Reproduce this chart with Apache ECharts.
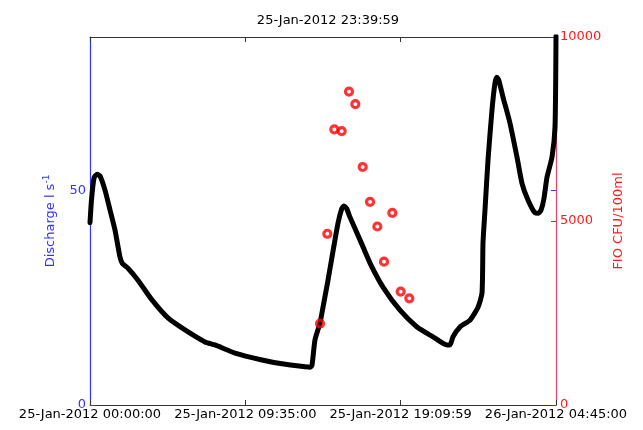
<!DOCTYPE html>
<html>
<head>
<meta charset="utf-8">
<script src="https://cdn.jsdelivr.net/npm/echarts@6/dist/echarts.min.js"></script>
<style>
html,body{margin:0;padding:0;background:#fff;}
#chart{width:643px;height:430px;}
</style>
</head>
<body>
<div id="chart"></div>
<script>
// Minutes since 25-Jan-2012 00:00:00
var timeMin = [0, 5.5, 14.8, 25.9, 37, 55.5, 74, 92.5, 111, 120, 140.7, 177.7, 229.5, 288.7, 351.7, 425.7, 462.7, 536.7, 636.7, 710.7, 795.9, 815, 821.8, 832.9, 851.4, 862.5, 881, 895.8, 918, 932, 940, 950, 962.4, 999.5, 1036.5, 1084.6, 1147.5, 1210.5, 1269.7, 1321.5, 1332.6, 1343.7, 1369.6, 1406.7, 1436.3, 1451.1, 1454.8, 1462.2, 1473.3, 1488.1, 1499.2, 1506, 1513, 1528.8, 1554.7, 1580.6, 1599.1, 1621.3, 1647.3, 1660, 1670, 1680, 1691.7, 1710.2, 1721.3, 1725];
var discharge = [42.5, 47.8, 52.9, 53.8, 53.4, 50.1, 45.5, 40.8, 34.5, 33.0, 31.9, 29.1, 24.5, 20.3, 17.5, 14.7, 14.0, 12.1, 10.5, 9.6, 8.9, 8.8, 9.3, 15.2, 19.1, 22.8, 29.1, 34.5, 42.4, 45.8, 46.4, 45.8, 43.8, 38.5, 33.1, 27.5, 22.1, 18.2, 15.9, 14.0, 14.0, 15.9, 18.2, 19.8, 22.8, 26.1, 37.8, 45.5, 57.1, 68.8, 75.1, 76.4, 75.8, 71.8, 65.7, 57.8, 51.7, 47.8, 44.8, 44.7, 45.5, 48.0, 53.1, 57.8, 64.8, 86.0];

var fioTime = [851.4, 878.5, 904.4, 931.6, 958.7, 982.2, 1009.4, 1036.5, 1063.6, 1088.3, 1119, 1150, 1182];
var fioValue = [2214, 4653, 7488, 7444, 8518, 8176, 6468, 5520, 4851, 3894, 5222, 3081, 2900];

var xTickLabels = ['25-Jan-2012 00:00:00', '25-Jan-2012 09:35:00', '25-Jan-2012 19:09:59', '26-Jan-2012 04:45:00'];
var titleText = '25-Jan-2012 23:39:59';

var lineData = timeMin.map(function(t, i){ return [t, discharge[i]]; });
var fioData = fioTime.map(function(t, i){ return [t, fioValue[i]]; });

var FONT = 'DejaVu Sans';
var BLUE = '#3333ff';
var RED = '#ff1a1a';

var gridBox = {left: 90, right: 87, top: 37, bottom: 25, containLabel: false};

var chart = echarts.init(document.getElementById('chart'), null, {renderer: 'canvas'});
chart.setOption({
  animation: false,
  backgroundColor: '#ffffff',
  title: {
    text: titleText,
    left: 323, top: 9, textAlign: 'center',
    textStyle: {fontFamily: FONT, fontSize: 13, fontWeight: 'normal', color: '#000'}
  },
  grid: [gridBox, Object.assign({}, gridBox)],
  xAxis: [{
    type: 'value', gridIndex: 0, min: 0, max: 1725, interval: 575, position: 'bottom',
    axisLine: {show: true, onZero: false, lineStyle: {color: '#333', width: 1}},
    axisTick: {show: true, inside: true, length: 5, lineStyle: {color: '#333'}},
    axisLabel: {
      fontFamily: FONT, fontSize: 13, color: '#000', margin: 3,
      showMinLabel: true, showMaxLabel: true,
      formatter: function(v){ var i = Math.round(v / 575); return xTickLabels[i] || ''; }
    },
    splitLine: {show: false}
  }, {
    type: 'value', gridIndex: 0, min: 0, max: 1725, interval: 575, position: 'top',
    axisLine: {show: true, onZero: false, lineStyle: {color: '#333', width: 1}},
    axisTick: {show: true, inside: true, length: 5, lineStyle: {color: '#333'}},
    axisLabel: {show: false},
    splitLine: {show: false}
  }, {
    type: 'value', gridIndex: 1, min: 0, max: 1725, show: false
  }],
  yAxis: [{
    type: 'value', gridIndex: 0, min: 0, max: 85.8, interval: 50, position: 'left',
    name: 'Discharge l s{sup|-1}',
    nameLocation: 'middle', nameGap: 31, nameRotate: 90,
    nameTextStyle: {fontFamily: FONT, fontSize: 13, color: BLUE,
      rich: {sup: {fontFamily: FONT, fontSize: 9, color: BLUE, verticalAlign: 'top', padding: [0,0,8,0]}}},
    axisLine: {show: true, onZero: false, lineStyle: {color: BLUE, width: 1.2}},
    axisTick: {show: true, inside: true, length: 5, lineStyle: {color: BLUE}},
    axisLabel: {fontFamily: FONT, fontSize: 13, color: BLUE, margin: 4, showMaxLabel: false},
    splitLine: {show: false}
  }, {
    type: 'value', gridIndex: 0, min: 0, max: 10000, interval: 5000, position: 'right',
    name: 'FIO CFU/100ml',
    nameLocation: 'middle', nameGap: 45, nameRotate: 90,
    nameTextStyle: {fontFamily: FONT, fontSize: 13, color: RED},
    axisLine: {show: true, onZero: false, lineStyle: {color: '#e2466e', width: 1.2}},
    axisTick: {show: true, inside: true, length: 5, lineStyle: {color: RED}},
    axisLabel: {fontFamily: FONT, fontSize: 13, color: RED, margin: 4,
      formatter: function(v){ return String(v); }},
    splitLine: {show: false}
  }, {
    type: 'value', gridIndex: 1, min: 0, max: 85.8, interval: 50, position: 'right',
    axisLine: {show: false, onZero: false},
    axisTick: {show: true, inside: true, length: 5, lineStyle: {color: BLUE},
      interval: function(i, v){ return v > 0 && v < 85; }},
    axisLabel: {show: false},
    splitLine: {show: false}
  }],
  series: [{
    type: 'line', xAxisIndex: 0, yAxisIndex: 0,
    data: lineData, showSymbol: false, symbol: 'none', smooth: 0.2,
    lineStyle: {color: '#000', width: 5, join: 'round', cap: 'round'},
    z: 2
  }, {
    type: 'scatter', xAxisIndex: 0, yAxisIndex: 1,
    data: fioData, symbol: 'circle', symbolSize: 7,
    itemStyle: {color: 'rgba(0,0,0,0)', borderColor: '#ff0000', borderWidth: 3.2},
    z: 3
  }, {
    type: 'line', xAxisIndex: 2, yAxisIndex: 2, data: [], silent: true
  }]
});
</script>
</body>
</html>
